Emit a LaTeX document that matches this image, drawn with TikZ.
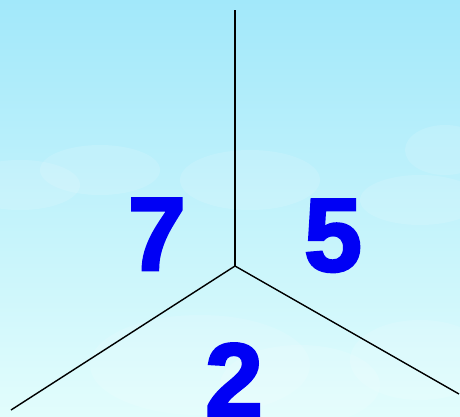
\documentclass[tikz,border=0pt]{standalone}
\usepackage{fontspec}
\newfontfamily\numfont[FakeBold=2.6]{Liberation Sans Bold}
\definecolor{skytop}{RGB}{162,232,250}
\definecolor{skybot}{RGB}{226,253,252}
\definecolor{numblue}{RGB}{0,0,245}
\begin{document}
\begin{tikzpicture}[x=1pt,y=-1pt,
  num/.style={font=\numfont\fontsize{104}{104}\selectfont, text=numblue, inner sep=0pt, anchor=base},
  spoke/.style={draw=black, line width=1.4pt},
  cloud/.style={fill=white, opacity=0.13}]
\shade[top color=skytop, bottom color=skybot] (0,0) rectangle (460,416);
\useasboundingbox (0,0) rectangle (460,416);
% faint clouds
\fill[cloud] (20,185) ellipse (60 and 25);
\fill[cloud] (100,170) ellipse (60 and 25);
\fill[cloud] (250,180) ellipse (70 and 30);
\fill[cloud] (445,150) ellipse (40 and 25);
\fill[cloud] (420,200) ellipse (60 and 25);
\fill[cloud] (200,365) ellipse (110 and 50);
\fill[cloud] (420,360) ellipse (70 and 40);
\fill[cloud] (300,385) ellipse (80 and 40);
% spokes
\coordinate (c) at (235,266);
\coordinate (t) at (235,10);
\coordinate (l) at (11,410);
\coordinate (r) at (459,394);
\draw[spoke] (c) -- (t);
\draw[spoke] (c) -- (l);
\draw[spoke] (c) -- (r);
% numbers
\node[num] (n7) at (157,270) {7};
\node[num] (n5) at (333,271) {5};
\node[num] (n2) at (234,416) {2};
\end{tikzpicture}
\end{document}
